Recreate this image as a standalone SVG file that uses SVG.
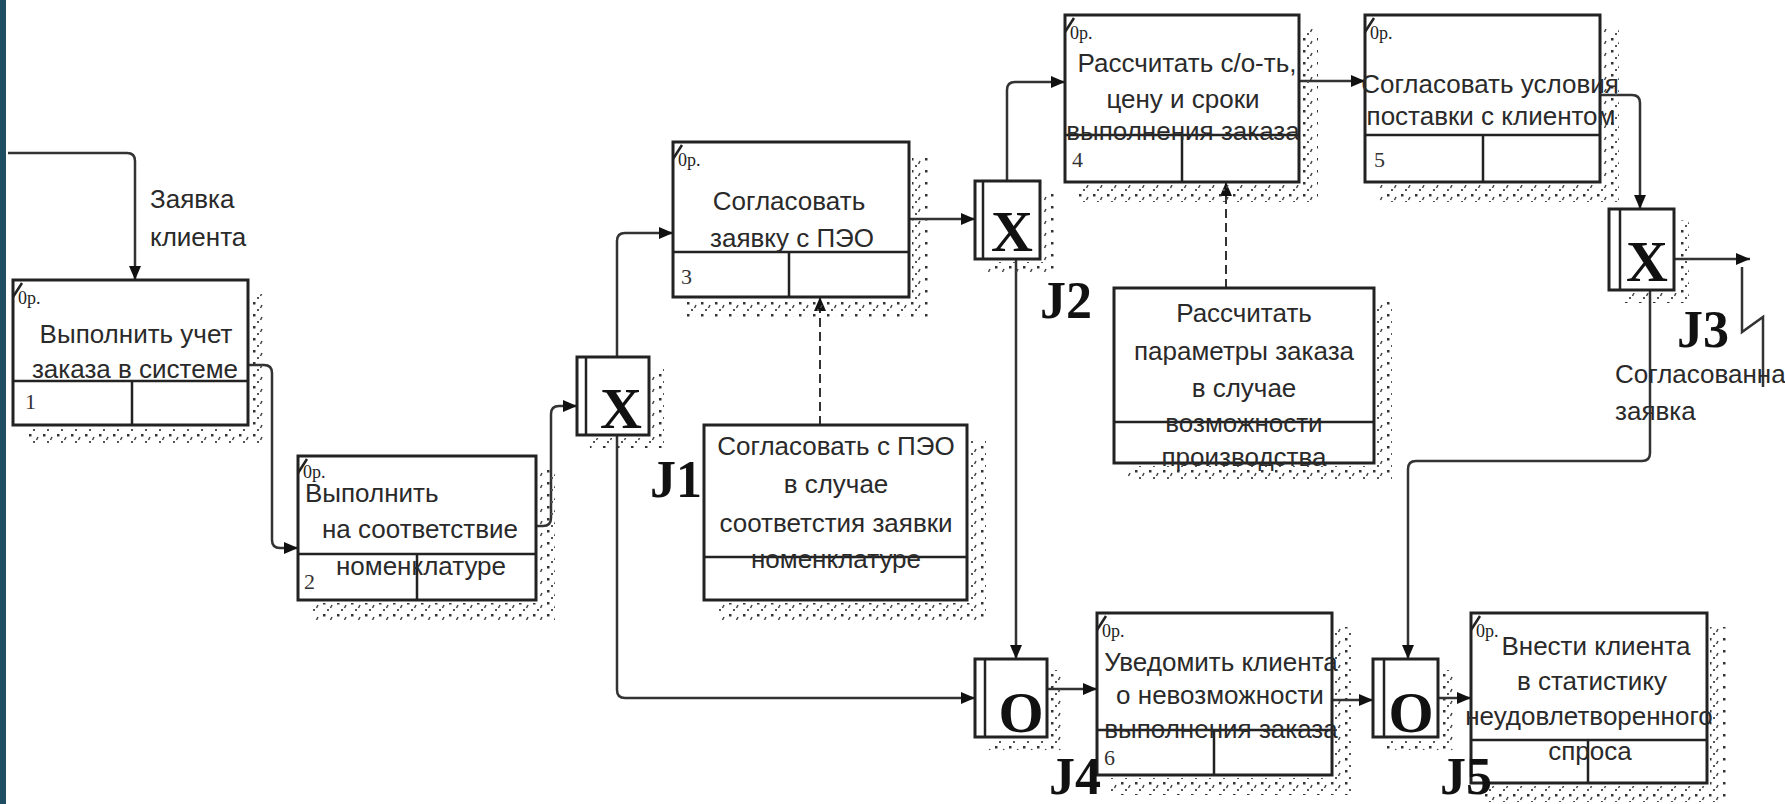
<svg xmlns="http://www.w3.org/2000/svg" width="1785" height="804" viewBox="0 0 1785 804">
<style>
.box{fill:#fff;stroke:#222;stroke-width:3}
.div{stroke:#222;stroke-width:2.5;fill:none}
.t{font-family:"Liberation Sans",Arial,sans-serif;font-size:26px;fill:#2a2a2a;text-anchor:middle}
.ts{font-family:"Liberation Sans",Arial,sans-serif;font-size:26px;fill:#2a2a2a}
.op{font-family:"Liberation Serif","Times New Roman",serif;font-size:18px;fill:#222}
.num{font-family:"Liberation Serif","Times New Roman",serif;font-size:22px;fill:#333}
.jl{font-family:"Liberation Serif","Times New Roman",serif;font-size:52px;font-weight:bold;fill:#111}
.jx{font-family:"Liberation Serif","Times New Roman",serif;font-size:58px;font-weight:bold;fill:#111;text-anchor:middle}
.sh{fill:url(#dots)}
.c{fill:none;stroke:#333;stroke-width:2.5}
.d{fill:none;stroke:#333;stroke-width:2;stroke-dasharray:9 5}
</style>
<defs>
<pattern id="dots" width="14" height="12" patternUnits="userSpaceOnUse">
<rect x="1" y="2" width="2.5" height="2.5" fill="#333"/>
<path d="M10 5 l-1.5 3" stroke="#444" stroke-width="1.6"/>
<rect x="5" y="9" width="2" height="2" fill="#555"/>
</pattern>
<marker id="ar" viewBox="0 0 14 12" refX="14" refY="6" markerWidth="14" markerHeight="12" markerUnits="userSpaceOnUse" orient="auto">
<path d="M0 0 L14 6 L0 12 Z" fill="#111"/>
</marker>
</defs>
<rect x="0" y="0" width="1785" height="804" fill="#fff"/>
<rect x="0" y="0" width="6" height="804" fill="#1f4e63"/>

<g id="connectors">
<path class="c" d="M8 153 H127 Q135 153 135 161 V280" marker-end="url(#ar)"/>
<path class="c" d="M248 365 H264 Q272 365 272 373 V540 Q272 548 280 548 H298" marker-end="url(#ar)"/>
<path class="c" d="M536 526 H543 Q551 526 551 518 V414 Q551 406 559 406 H577" marker-end="url(#ar)"/>
<path class="c" d="M617 357 V241 Q617 233 625 233 H673" marker-end="url(#ar)"/>
<path class="c" d="M617 435 V690 Q617 698 625 698 H975" marker-end="url(#ar)"/>
<path class="c" d="M909 219 H975" marker-end="url(#ar)"/>
<path class="c" d="M1007 181 V90 Q1007 82 1015 82 H1065" marker-end="url(#ar)"/>
<path class="c" d="M1016 259 V659" marker-end="url(#ar)"/>
<path class="c" d="M1299 81 H1365" marker-end="url(#ar)"/>
<path class="c" d="M1600 95 H1632 Q1640 95 1640 103 V209" marker-end="url(#ar)"/>
<path class="c" d="M1674 259 H1750" marker-end="url(#ar)"/>
<path class="c" d="M1742 267 V332 L1763 317 V387" stroke-width="2"/>
<path class="c" d="M1650 290 V453 Q1650 461 1642 461 H1416 Q1408 461 1408 469 V659" marker-end="url(#ar)"/>
<path class="c" d="M1047 689 H1097" marker-end="url(#ar)"/>
<path class="c" d="M1332 700 H1373" marker-end="url(#ar)"/>
<path class="c" d="M1438 698 H1471" marker-end="url(#ar)"/>
<path class="d" d="M820 425 V297" marker-end="url(#ar)"/>
<path class="d" d="M1226 288 V182" marker-end="url(#ar)"/>
<text class="ts" x="150" y="208" font-size="24">Заявка</text>
<text class="ts" x="150" y="246" font-size="24">клиента</text>
<text class="ts" x="1615" y="383" font-size="24">Согласованная</text>
<text class="ts" x="1615" y="420" font-size="24">заявка</text>
</g>

<g id="box1">
<path class="sh" d="M251 294 H267 V445 H27 V428 H251 Z"/>
<rect class="box" x="13" y="280" width="235" height="145"/>
<path class="div" d="M13 381 H248 M132 381 V425 M13 297 L22 283"/>
<text class="op" x="18" y="304">0р.</text>
<text class="t" x="136" y="343">Выполнить учет</text>
<text class="t" x="135" y="378">заказа в системе</text>
<text class="num" x="25" y="409">1</text>
</g>

<g id="box2">
<path class="sh" d="M539 470 H555 V620 H312 V603 H539 Z"/>
<rect class="box" x="298" y="456" width="238" height="144"/>
<path class="div" d="M298 554 H536 M417 554 V600 M298 473 L307 459"/>
<text class="op" x="303" y="478">0р.</text>
<text class="ts" x="305" y="502">Выполнить</text>
<text class="t" x="420" y="538">на соответствие</text>
<text class="t" x="421" y="575">номенклатуре</text>
<text class="num" x="304" y="589">2</text>
</g>

<g id="J1">
<path class="sh" d="M652 368 H664 V448 H590 V438 H652 Z"/>
<rect class="box" x="577" y="357" width="72" height="78" stroke-width="2.5"/>
<path class="div" d="M586 357 V435"/>
<text class="jx" x="621" y="428">X</text>
<text class="jl" x="650" y="497">J1</text>
</g>

<g id="box3">
<path class="sh" d="M912 156 H928 V317 H687 V300 H912 Z"/>
<rect class="box" x="673" y="142" width="236" height="155"/>
<path class="div" d="M673 252 H909 M789 252 V297 M673 159 L682 145"/>
<text class="op" x="678" y="166">0р.</text>
<text class="t" x="789" y="210">Согласовать</text>
<text class="t" x="792" y="247">заявку с ПЭО</text>
<text class="num" x="681" y="284">3</text>
</g>

<g id="note1">
<path class="sh" d="M970 440 H986 V620 H718 V603 H970 Z"/>
<rect class="box" x="704" y="425" width="263" height="175"/>
<path class="div" d="M704 557 H967"/>
<text class="t" x="836" y="455">Согласовать с ПЭО</text>
<text class="t" x="836" y="493">в случае</text>
<text class="t" x="836" y="532">соответстия заявки</text>
<text class="t" x="836" y="568">номенклатуре</text>
</g>

<g id="J2">
<path class="sh" d="M1043 192 H1055 V272 H988 V262 H1043 Z"/>
<rect class="box" x="975" y="181" width="65" height="78" stroke-width="2.5"/>
<path class="div" d="M983 181 V259"/>
<text class="jx" x="1012" y="251">X</text>
<text class="jl" x="1040" y="318">J2</text>
</g>

<g id="box4">
<path class="sh" d="M1302 29 H1318 V202 H1079 V185 H1302 Z"/>
<rect class="box" x="1065" y="15" width="234" height="167"/>
<path class="div" d="M1065 135 H1299 M1182 135 V182 M1065 32 L1074 18"/>
<text class="op" x="1070" y="39">0р.</text>
<text class="t" x="1187" y="72">Рассчитать с/о-ть,</text>
<text class="t" x="1183" y="108">цену и сроки</text>
<text class="t" x="1183" y="140">выполнения заказа</text>
<text class="num" x="1072" y="167">4</text>
</g>

<g id="note2">
<path class="sh" d="M1377 302 H1392 V482 H1128 V466 H1377 Z"/>
<rect class="box" x="1114" y="288" width="260" height="175"/>
<path class="div" d="M1114 422 H1374"/>
<text class="t" x="1244" y="322">Рассчитать</text>
<text class="t" x="1244" y="360">параметры заказа</text>
<text class="t" x="1244" y="397">в случае</text>
<text class="t" x="1244" y="432">возможности</text>
<text class="t" x="1244" y="466">производства</text>
</g>

<g id="box5">
<path class="sh" d="M1603 29 H1619 V202 H1379 V185 H1603 Z"/>
<rect class="box" x="1365" y="15" width="235" height="167"/>
<path class="div" d="M1365 135 H1600 M1483 135 V182 M1365 32 L1374 18"/>
<text class="op" x="1370" y="39">0р.</text>
<text class="t" x="1490" y="93">Согласовать условия</text>
<text class="t" x="1491" y="125">поставки с клиентом</text>
<text class="num" x="1374" y="167">5</text>
</g>

<g id="J3">
<path class="sh" d="M1677 220 H1689 V303 H1622 V293 H1677 Z"/>
<rect class="box" x="1609" y="209" width="65" height="81" stroke-width="2.5"/>
<path class="div" d="M1620 209 V290"/>
<text class="jx" x="1647" y="281">X</text>
<text class="jl" x="1677" y="347">J3</text>
</g>

<g id="box6">
<path class="sh" d="M1335 627 H1351 V795 H1111 V778 H1335 Z"/>
<rect class="box" x="1097" y="613" width="235" height="162"/>
<path class="div" d="M1097 730 H1332 M1214 730 V775 M1097 630 L1106 616"/>
<text class="op" x="1102" y="637">0р.</text>
<text class="t" x="1221" y="671">Уведомить клиента</text>
<text class="t" x="1220" y="704">о невозможности</text>
<text class="t" x="1221" y="738">выполнения заказа</text>
<text class="num" x="1104" y="765">6</text>
</g>

<g id="box7">
<path class="sh" d="M1710 627 H1726 V802 H1485 V786 H1710 Z"/>
<rect class="box" x="1471" y="613" width="236" height="170"/>
<path class="div" d="M1471 740 H1707 M1588 740 V783 M1471 630 L1480 616"/>
<text class="op" x="1476" y="637">0р.</text>
<text class="t" x="1596" y="655">Внести клиента</text>
<text class="t" x="1592" y="690">в статистику</text>
<text class="t" x="1589" y="725">неудовлетворенного</text>
<text class="t" x="1590" y="760">спроса</text>
</g>

<g id="J4">
<path class="sh" d="M1050 670 H1062 V750 H988 V740 H1050 Z"/>
<rect class="box" x="975" y="659" width="72" height="78" stroke-width="2.5"/>
<path class="div" d="M985 659 V737"/>
<text class="jx" x="1021" y="732">O</text>
<text class="jl" x="1049" y="794">J4</text>
</g>

<g id="J5">
<path class="sh" d="M1441 670 H1453 V750 H1386 V740 H1441 Z"/>
<rect class="box" x="1373" y="659" width="65" height="78" stroke-width="2.5"/>
<path class="div" d="M1384 659 V737"/>
<text class="jx" x="1411" y="732">O</text>
<text class="jl" x="1440" y="794">J5</text>
</g>
</svg>
